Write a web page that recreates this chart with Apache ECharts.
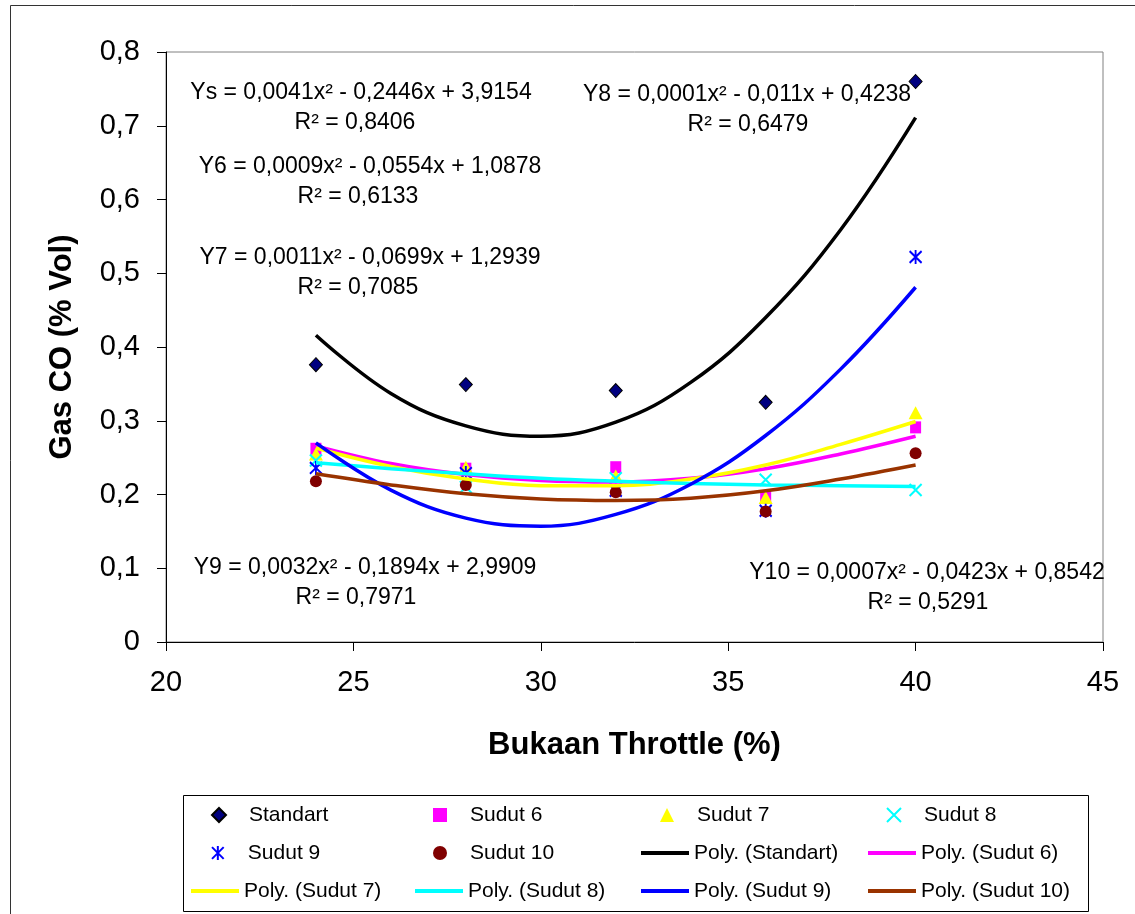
<!DOCTYPE html>
<html>
<head>
<meta charset="utf-8">
<script src="https://cdn.jsdelivr.net/npm/echarts@6/dist/echarts.min.js"></script>
<style>
html, body { margin: 0; padding: 0; background: #fff; }
#main { width: 1135px; height: 914px; }
</style>
</head>
<body>
<div id="main"></div>
<script>
// data points (Bukaan Throttle %)
var throttle = [24, 28, 32, 36, 40];
var standart = [0.376, 0.349, 0.341, 0.325, 0.760];
var sudut6 = [0.262, 0.235, 0.237, 0.198, 0.291];
var sudut7 = [0.255, 0.237, 0.225, 0.196, 0.311];
var sudut8 = [0.246, 0.210, 0.222, 0.220, 0.206];
var sudut9 = [0.236, 0.229, 0.205, 0.178, 0.522];
var sudut10 = [0.218, 0.213, 0.203, 0.177, 0.256];

// trendline values
var fitX = [24, 26, 28, 30, 32, 34, 36, 38, 40];
var fitStandart = [0.416, 0.337, 0.293, 0.279, 0.298, 0.352, 0.440, 0.559, 0.711];
var fitSudut6 = [0.266, 0.242, 0.227, 0.219, 0.217, 0.222, 0.235, 0.255, 0.279];
var fitSudut7 = [0.263, 0.238, 0.221, 0.212, 0.212, 0.221, 0.240, 0.268, 0.299];
var fitSudut8 = [0.243, 0.235, 0.228, 0.222, 0.218, 0.215, 0.213, 0.212, 0.211];
var fitSudut9 = [0.270, 0.206, 0.168, 0.157, 0.173, 0.214, 0.280, 0.370, 0.481];
var fitSudut10 = [0.228, 0.213, 0.201, 0.194, 0.192, 0.195, 0.205, 0.221, 0.240];

var yTicks = ['0', '0,1', '0,2', '0,3', '0,4', '0,5', '0,6', '0,7', '0,8'];

var FONT = "'Liberation Sans', Arial, sans-serif";
var X_PATH = 'path://M0,0L10,10M10,0L0,10';
var STAR_PATH = 'path://M0,1L10,11M10,1L0,11M5,0L5,12';

function pairs(xs, ys) {
	var out = [];
	for (var i = 0; i < xs.length; i++) out.push([xs[i], ys[i]]);
	return out;
}

function dots(name, data, symbol, size, style) {
	style.opacity = 1;
	return {
		name: name,
		type: 'scatter',
		data: pairs(throttle, data),
		symbol: symbol,
		symbolSize: size,
		itemStyle: style,
		z: 2
	};
}

function poly(name, data, color) {
	return {
		name: name,
		type: 'line',
		data: pairs(fitX, data),
		smooth: 0.4,
		symbol: 'none',
		lineStyle: { color: color, width: 3.5 },
		itemStyle: { color: color },
		z: 3
	};
}

// one legend per entry so the columns line up like the original
function legendAt(name, left, top, isLine) {
	return {
		data: [isLine ? { name: name, icon: 'rect' } : name],
		left: left,
		top: top,
		padding: 0,
		selectedMode: false,
		itemWidth: isLine ? 48 : 14,
		itemHeight: isLine ? 4 : 14,
		textStyle: {
			fontFamily: FONT,
			fontSize: 21,
			lineHeight: 24,
			color: '#000',
			padding: isLine ? 0 : [0, 0, 0, 18]
		}
	};
}

function note(text, x, y) {
	return {
		type: 'text',
		x: x,
		y: y,
		style: {
			text: text,
			fill: '#000',
			font: '23px ' + FONT,
			textAlign: 'center',
			textVerticalAlign: 'middle'
		},
		z: 10
	};
}

var myChart = echarts.init(document.getElementById('main'));

myChart.setOption({
	animation: false,
	backgroundColor: '#fff',
	grid: {
		left: 166,
		right: 32,
		top: 52,
		bottom: 272,
		show: true,
		borderColor: '#808080',
		borderWidth: 1
	},
	xAxis: {
		type: 'value',
		min: 20,
		max: 45,
		interval: 5,
		name: 'Bukaan Throttle (%)',
		nameLocation: 'middle',
		nameGap: 88,
		nameTextStyle: { fontFamily: FONT, fontSize: 31, fontWeight: 'bold', color: '#000' },
		axisLine: { lineStyle: { color: '#000', width: 1 } },
		axisTick: { inside: false, length: 9, lineStyle: { color: '#000' } },
		axisLabel: { margin: 26, fontFamily: FONT, fontSize: 29, color: '#000' },
		splitLine: { show: false }
	},
	yAxis: {
		type: 'value',
		min: 0,
		max: 0.8,
		interval: 0.1,
		name: 'Gas CO (% Vol)',
		nameLocation: 'middle',
		nameGap: 88,
		nameTextStyle: { fontFamily: FONT, fontSize: 31, fontWeight: 'bold', color: '#000' },
		axisLine: { show: true, lineStyle: { color: '#000', width: 1 } },
		axisTick: { show: true, inside: false, length: 9, lineStyle: { color: '#000' } },
		axisLabel: {
			margin: 26,
			fontFamily: FONT,
			fontSize: 29,
			color: '#000',
			formatter: function(v) {
				return yTicks[Math.round(v * 10)];
			}
		},
		splitLine: { show: false }
	},
	legend: [
		legendAt('Standart', 211, 803, false),
		legendAt('Sudut 6', 433, 803, false),
		legendAt('Sudut 7', 660, 803, false),
		legendAt('Sudut 8', 886, 803, false),
		legendAt('Sudut 9', 211, 841, false),
		legendAt('Sudut 10', 433, 841, false),
		legendAt('Poly. (Standart)', 641, 841, true),
		legendAt('Poly. (Sudut 6)', 868, 841, true),
		legendAt('Poly. (Sudut 7)', 191, 879, true),
		legendAt('Poly. (Sudut 8)', 415, 879, true),
		legendAt('Poly. (Sudut 9)', 641, 879, true),
		legendAt('Poly. (Sudut 10)', 868, 879, true)
	],
	graphic: [
		{ type: 'rect', shape: { x: 10.5, y: 5.5, width: 1200, height: 1000 }, style: { fill: 'none', stroke: '#333', lineWidth: 1 }, z: -1 },
		{ type: 'rect', shape: { x: 183.5, y: 795.5, width: 905, height: 116 }, style: { fill: 'none', stroke: '#000', lineWidth: 1 }, z: 0 },
		note('Ys = 0,0041x² - 0,2446x + 3,9154', 361, 93),
		note('R² = 0,8406', 355, 123),
		note('Y6 = 0,0009x² - 0,0554x + 1,0878', 370, 167),
		note('R² = 0,6133', 358, 197),
		note('Y7 = 0,0011x² - 0,0699x + 1,2939', 370, 258),
		note('R² = 0,7085', 358, 288),
		note('Y8 = 0,0001x² - 0,011x + 0,4238', 747, 95),
		note('R² = 0,6479', 748, 125),
		note('Y9 = 0,0032x² - 0,1894x + 2,9909', 365, 568),
		note('R² = 0,7971', 356, 598),
		note('Y10 = 0,0007x² - 0,0423x + 0,8542', 927, 573),
		note('R² = 0,5291', 928, 603)
	],
	series: [
		dots('Standart', standart, 'diamond', [13, 14], { color: '#000080', borderColor: '#000', borderWidth: 1 }),
		dots('Sudut 6', sudut6, 'rect', [11, 12], { color: '#FF00FF' }),
		dots('Sudut 7', sudut7, 'triangle', [14, 13], { color: '#FFFF00' }),
		dots('Sudut 8', sudut8, X_PATH, 12, { color: '#00FFFF', borderColor: '#00FFFF', borderWidth: 2 }),
		dots('Sudut 9', sudut9, STAR_PATH, [12, 14], { color: '#0000FF', borderColor: '#0000FF', borderWidth: 2 }),
		dots('Sudut 10', sudut10, 'circle', 12, { color: '#800000' }),
		poly('Poly. (Standart)', fitStandart, '#000000'),
		poly('Poly. (Sudut 6)', fitSudut6, '#FF00FF'),
		poly('Poly. (Sudut 7)', fitSudut7, '#FFFF00'),
		poly('Poly. (Sudut 8)', fitSudut8, '#00FFFF'),
		poly('Poly. (Sudut 9)', fitSudut9, '#0000FF'),
		poly('Poly. (Sudut 10)', fitSudut10, '#993300')
	]
});
</script>
</body>
</html>
